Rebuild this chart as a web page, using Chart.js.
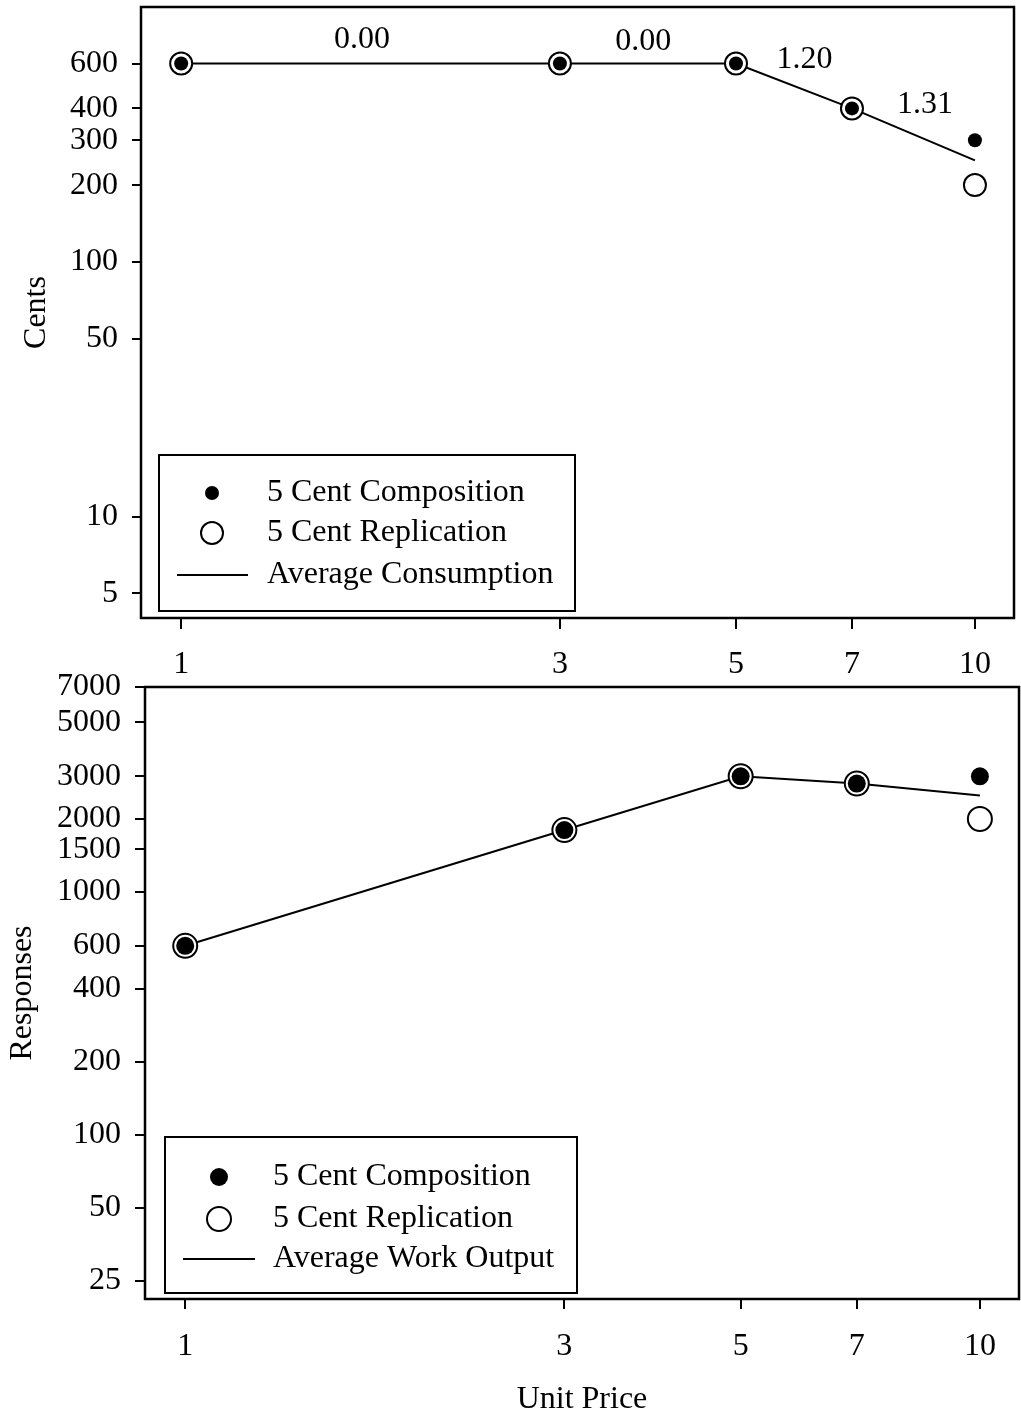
<!doctype html>
<html>

<head>
    <title>Unit Price</title>
    <script src="https://cdn.jsdelivr.net/npm/chart.js"></script>
    <style>
        body { margin: 0; background: #fff; width: 1021px; height: 1424px; position: relative; overflow: hidden; }
        .painel { position: absolute; left: 0; }
    </style>
</head>

<body>
    <div class="painel" style="top:0"><canvas id="consumo" width="1021" height="680"></canvas></div>
    <div class="painel" style="top:650px"><canvas id="trabalho" width="1021" height="774"></canvas></div>

    <script>
        // dados
        const unitPrices = [1, 3, 5, 7, 10];
        const priceTicks = [1, 3, 5, 7, 10];

        const centsComposition = [600, 600, 600, 400, 300];
        const centsReplication = [600, 600, 600, 400, 200];
        const centsAverage = [600, 600, 600, 400, 250];
        const centsTicks = [5, 10, 50, 100, 200, 300, 400, 600];

        const elasticityText = ['0.00', '0.00', '1.20', '1.31'];
        const elasticityPrice = [1.69, 3.82, 6.1, 8.65];
        const elasticityCents = [745, 730, 622, 415];

        const responsesComposition = [600, 1800, 3000, 2800, 3000];
        const responsesReplication = [600, 1800, 3000, 2800, 2000];
        const responsesAverage = [600, 1800, 3000, 2800, 2500];
        const responsesTicks = [25, 50, 100, 200, 400, 600, 1000, 1500, 2000, 3000, 5000, 7000];

        const legendTop = ['5 Cent Composition', '5 Cent Replication', 'Average Consumption'];
        const legendBottom = ['5 Cent Composition', '5 Cent Replication', 'Average Work Output'];

        const FONTE = '"Liberation Serif", "Times New Roman", serif';
        Chart.defaults.font.family = FONTE;
        Chart.defaults.font.size = 32;
        Chart.defaults.color = '#000';

        function pontos(ys) {
            return unitPrices.map((x, i) => ({ x: x, y: ys[i] }));
        }

        const moldura = {
            id: 'moldura',
            afterDraw(chart) {
                const { ctx, chartArea: a } = chart;
                ctx.save();
                ctx.strokeStyle = '#000';
                ctx.lineWidth = 2.5;
                ctx.strokeRect(a.left, a.top, a.right - a.left, a.bottom - a.top);
                ctx.restore();
            }
        };

        const legenda = {
            id: 'legenda',
            afterDraw(chart, args, o) {
                if (!o || !o.labels) return;
                const { ctx, chartArea: a } = chart;
                const x0 = a.left + o.left;
                const y0 = a.bottom - o.bottom - o.height;
                ctx.save();
                ctx.fillStyle = '#fff';
                ctx.fillRect(x0, y0, o.width, o.height);
                ctx.strokeStyle = '#000';
                ctx.lineWidth = 2;
                ctx.strokeRect(x0, y0, o.width, o.height);
                ctx.font = '32px ' + FONTE;
                ctx.textBaseline = 'middle';
                ctx.fillStyle = '#000';
                o.labels.forEach((txt, i) => {
                    const y = y0 + o.rowY[i];
                    const sx = x0 + o.symbolX;
                    if (i === 0) {
                        ctx.beginPath();
                        ctx.arc(sx, y, o.filledR, 0, Math.PI * 2);
                        ctx.fill();
                    } else if (i === 1) {
                        ctx.beginPath();
                        ctx.lineWidth = 2;
                        ctx.arc(sx, y, o.openR, 0, Math.PI * 2);
                        ctx.stroke();
                    } else {
                        ctx.beginPath();
                        ctx.lineWidth = 2;
                        ctx.moveTo(x0 + o.lineFrom, y);
                        ctx.lineTo(x0 + o.lineTo, y);
                        ctx.stroke();
                    }
                    ctx.fillText(txt, x0 + o.textX, y);
                });
                ctx.restore();
            }
        };

        const elasticidades = {
            id: 'elasticidades',
            afterDatasetsDraw(chart, args, o) {
                if (!o || !o.text) return;
                const { ctx, scales } = chart;
                ctx.save();
                ctx.font = '32px ' + FONTE;
                ctx.textAlign = 'center';
                ctx.textBaseline = 'middle';
                ctx.fillStyle = '#000';
                o.text.forEach((t, i) => {
                    ctx.fillText(t, scales.x.getPixelForValue(o.xs[i]), scales.y.getPixelForValue(o.ys[i]));
                });
                ctx.restore();
            }
        };

        function montar(id, cfg) {
            return new Chart(document.getElementById(id).getContext('2d'), {
                type: 'scatter',
                data: {
                    datasets: [{
                        label: cfg.labels[0],
                        data: pontos(cfg.composition),
                        pointRadius: cfg.filledR,
                        pointBackgroundColor: '#000',
                        pointBorderWidth: 0,
                        order: 0
                    }, {
                        label: cfg.labels[1],
                        data: pontos(cfg.replication),
                        pointRadius: cfg.openR,
                        pointBackgroundColor: '#fff',
                        pointBorderColor: '#000',
                        pointBorderWidth: 2,
                        order: 1
                    }, {
                        label: cfg.labels[2],
                        data: pontos(cfg.average),
                        showLine: true,
                        borderColor: '#000',
                        borderWidth: 2,
                        pointRadius: 0,
                        tension: 0,
                        order: 2
                    }]
                },
                options: {
                    responsive: false,
                    animation: false,
                    events: [],
                    layout: { autoPadding: false, padding: { top: cfg.top, right: cfg.right, left: 0, bottom: 0 } },
                    plugins: {
                        legend: { display: false },
                        tooltip: { enabled: false },
                        legenda: cfg.legend,
                        elasticidades: cfg.notes || {}
                    },
                    scales: {
                        x: {
                            type: 'logarithmic',
                            min: 0.89,
                            max: 11.2,
                            bounds: 'data',
                            border: { display: false },
                            grid: { drawOnChartArea: false, color: '#000', lineWidth: 2, tickLength: cfg.xTick },
                            ticks: {
                                autoSkip: false, maxRotation: 0, padding: cfg.xPad,
                                callback: (v) => String(v)
                            },
                            title: {
                                display: !!cfg.xTitle,
                                text: cfg.xTitle || '',
                                padding: { top: 0, bottom: 5 }
                            },
                            afterBuildTicks: (s) => { s.ticks = priceTicks.map(v => ({ value: v })); },
                            afterFit: (s) => {
                                s.height = cfg.xHeight;
                                s.paddingLeft = 0;
                                s.paddingRight = 0;
                            }
                        },
                        y: {
                            type: 'logarithmic',
                            min: cfg.yMin,
                            max: cfg.yMax,
                            bounds: 'data',
                            border: { display: false },
                            grid: { drawOnChartArea: false, color: '#000', lineWidth: 2, tickLength: cfg.yTick },
                            ticks: {
                                autoSkip: false, padding: 14,
                                callback: (v) => String(v)
                            },
                            title: {
                                display: true,
                                text: cfg.yTitle,
                                padding: { top: cfg.yTitlePad, bottom: 0 }
                            },
                            afterBuildTicks: (s) => { s.ticks = cfg.yTicks.map(v => ({ value: v })); },
                            afterFit: (s) => {
                                s.width = cfg.yWidth;
                                s.paddingTop = 0;
                                s.paddingBottom = 0;
                            }
                        }
                    }
                },
                plugins: [moldura, elasticidades, legenda]
            });
        }

        montar('consumo', {
            labels: legendTop,
            composition: centsComposition,
            replication: centsReplication,
            average: centsAverage,
            yTicks: centsTicks,
            yMin: 4, yMax: 1000,
            yTitle: 'Cents', yTitlePad: 17,
            yWidth: 141, yTick: 9,
            xHeight: 62, xTick: 11, xPad: 16,
            top: 7, right: 7,
            filledR: 7, openR: 11,
            notes: { text: elasticityText, xs: elasticityPrice, ys: elasticityCents },
            legend: {
                labels: legendTop, left: 18, bottom: 7, width: 416, height: 156,
                rowY: [38, 78, 120], symbolX: 53, textX: 108, lineFrom: 18, lineTo: 89,
                filledR: 7, openR: 11
            }
        });

        montar('trabalho', {
            labels: legendBottom,
            composition: responsesComposition,
            replication: responsesReplication,
            average: responsesAverage,
            yTicks: responsesTicks,
            yMin: 21, yMax: 7000,
            yTitle: 'Responses', yTitlePad: 3,
            yWidth: 145, yTick: 10,
            xHeight: 125, xTick: 10, xPad: 18,
            xTitle: 'Unit Price',
            top: 37, right: 2,
            filledR: 9, openR: 12,
            legend: {
                labels: legendBottom, left: 20, bottom: 6, width: 412, height: 156,
                rowY: [40, 82, 122], symbolX: 54, textX: 108, lineFrom: 18, lineTo: 90,
                filledR: 9, openR: 12
            }
        });
    </script>
</body>

</html>
